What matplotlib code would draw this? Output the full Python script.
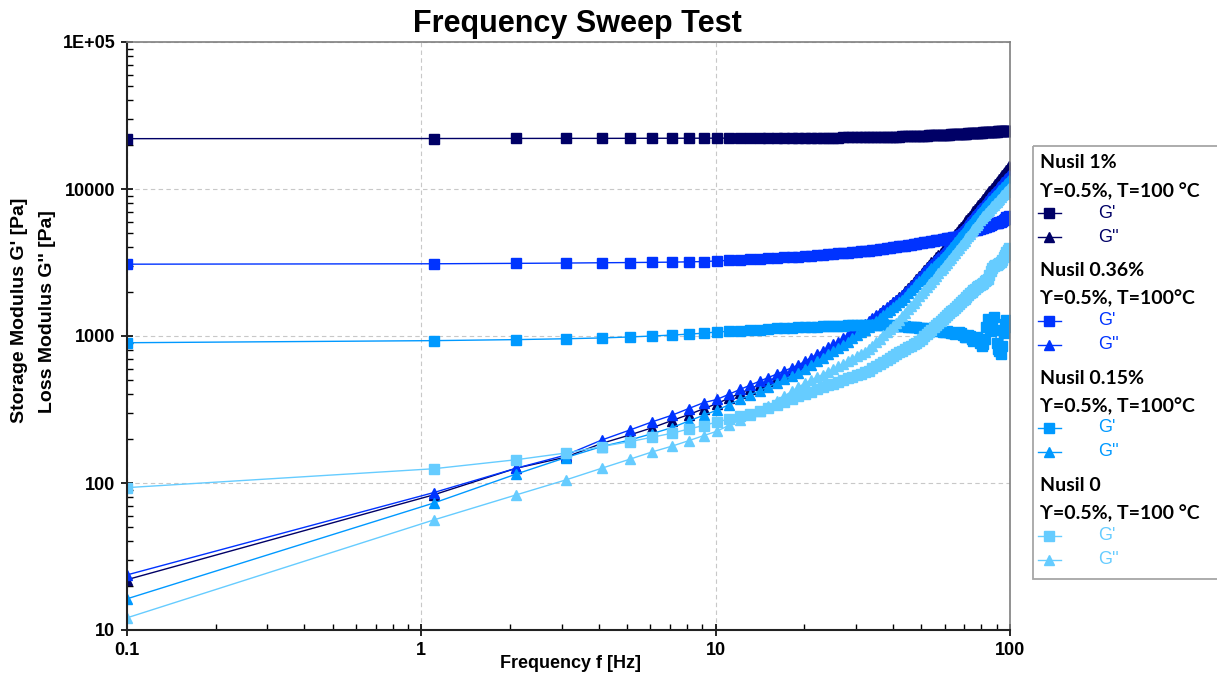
import matplotlib
matplotlib.use("Agg")
import matplotlib.pyplot as plt
from matplotlib.patches import Rectangle

# frequency points of the sweep [Hz]
freq = [0.1, 1.1, 2.1, 3.1, 4.1, 5.1, 6.1, 7.1, 8.1, 9.1,
        10.1, 11.1, 12.1, 13.1, 14.1, 15.1, 16.1, 17.1, 18.1, 19.1,
        20.1, 21.1, 22.1, 23.1, 24.1, 25.1, 26.1, 27.1, 28.1, 29.1,
        30.1, 31.1, 32.1, 33.1, 34.1, 35.1, 36.1, 37.1, 38.1, 39.1,
        40.1, 41.1, 42.1, 43.1, 44.1, 45.1, 46.1, 47.1, 48.1, 49.1,
        50.1, 51.1, 52.1, 53.1, 54.1, 55.1, 56.1, 57.1, 58.1, 59.1,
        60.1, 61.1, 62.1, 63.1, 64.1, 65.1, 66.1, 67.1, 68.1, 69.1,
        70.1, 71.1, 72.1, 73.1, 74.1, 75.1, 76.1, 77.1, 78.1, 79.1,
        80.1, 81.1, 82.1, 83.1, 84.1, 85.1, 86.1, 87.1, 88.1, 89.1,
        90.1, 91.1, 92.1, 93.1, 94.1, 95.1, 96.1, 97.1, 98.1, 99.1]

# Nusil 1%
n1_gp = [22000, 22050, 22080, 22100, 22100, 22120, 22130, 22140, 22150, 22160,
         22170, 22180, 22190, 22200, 22210, 22220, 22230, 22240, 22250, 22260,
         22280, 22300, 22320, 22340, 22360, 22380, 22400, 22420, 22440, 22460,
         22480, 22500, 22520, 22540, 22560, 22580, 22600, 22620, 22640, 22660,
         22690, 22720, 22750, 22780, 22810, 22840, 22870, 22900, 22930, 22960,
         23000, 23040, 23080, 23120, 23160, 23200, 23240, 23280, 23320, 23360,
         23400, 23440, 23480, 23520, 23560, 23600, 23640, 23680, 23720, 23760,
         23800, 23840, 23880, 23920, 23960, 24000, 24040, 24080, 24120, 24160,
         24200, 24240, 24280, 24320, 24360, 24400, 24440, 24480, 24520, 24560,
         24600, 24640, 24680, 24720, 24760, 24800, 24840, 24870, 24900, 24950]
n1_gpp = [22, 83, 126, 150, 186, 212, 238, 266, 292, 320,
          347, 378, 408, 437, 466, 494, 522, 550, 578, 606,
          643, 683, 723, 764, 806, 846, 888, 936, 986, 1035,
          1086, 1137, 1189, 1240, 1303, 1365, 1428, 1493, 1558, 1624,
          1691, 1760, 1829, 1910, 2012, 2116, 2223, 2334, 2448, 2564,
          2684, 2806, 2932, 3060, 3182, 3307, 3434, 3565, 3697, 3832,
          3986, 4163, 4343, 4529, 4720, 4915, 5114, 5318, 5517, 5721,
          5930, 6143, 6359, 6581, 6808, 7039, 7276, 7515, 7761, 8010,
          8265, 8510, 8792, 9062, 9336, 9617, 9902, 10191, 10487, 10787,
          11092, 11403, 11717, 12036, 12396, 12763, 13137, 13517, 13904, 14300]

# Nusil 0.36%
n036_gp = [3080, 3100, 3120, 3135, 3150, 3160, 3170, 3180, 3195, 3210,
           3240, 3272, 3302, 3329, 3354, 3378, 3400, 3421, 3441, 3460,
           3488, 3518, 3546, 3574, 3600, 3626, 3650, 3675, 3698, 3720,
           3742, 3763, 3784, 3802, 3837, 3868, 3897, 3927, 3955, 3983,
           4011, 4038, 4065, 4083, 4124, 4155, 4186, 4216, 4246, 4275,
           4304, 4332, 4360, 4388, 4415, 4442, 4471, 4499, 4527, 4555,
           4582, 4609, 4636, 4662, 4688, 4714, 4739, 4788, 4852, 4916,
           4979, 5043, 5107, 5144, 5184, 5223, 5263, 5301, 5340, 5378,
           5415, 5455, 5490, 5530, 5570, 5620, 5700, 5800, 5850, 5840,
           5860, 5900, 5950, 6000, 6080, 6180, 6280, 6400, 6500, 6600]
n036_gpp = [23.7, 86, 126, 155, 196, 229, 261, 289, 321, 352,
            370, 402, 433, 463, 493, 522, 550, 579, 607, 635,
            673, 713, 753, 795, 837, 876, 917, 964, 1013, 1060,
            1109, 1159, 1209, 1259, 1320, 1380, 1441, 1503, 1566, 1629,
            1693, 1758, 1824, 1900, 1998, 2097, 2201, 2308, 2416, 2528,
            2644, 2761, 2882, 2999, 3109, 3221, 3334, 3451, 3568, 3686,
            3823, 3980, 4139, 4303, 4470, 4640, 4817, 4999, 5175, 5355,
            5545, 5731, 5920, 6120, 6318, 6525, 6730, 6936, 7148, 7369,
            7587, 7804, 8045, 8283, 8514, 8761, 9001, 9253, 9501, 9762,
            10016, 10286, 10545, 10808, 11082, 11359, 11639, 11922, 12208, 12498]

# Nusil 0.15%
n015_gp = [900, 930, 945, 958, 970, 985, 1000, 1015, 1030, 1045,
           1065, 1077, 1088, 1098, 1107, 1116, 1125, 1132, 1140, 1147,
           1152, 1156, 1160, 1164, 1168, 1172, 1175, 1178, 1181, 1184,
           1186, 1188, 1190, 1190, 1189, 1188, 1186, 1184, 1182, 1179,
           1176, 1173, 1170, 1167, 1163, 1159, 1155, 1150, 1145, 1140,
           1135, 1128, 1120, 1112, 1105, 1098, 1090, 1082, 1075, 1070,
           1072, 1078, 1070, 1055, 1040, 1030, 1040, 1060, 1045, 1010,
           980, 985, 1010, 1000, 960, 930, 950, 980, 940, 890,
           860, 880, 950, 1150, 1300, 1240, 1080, 1200, 1350, 1100,
           900, 820, 790, 760, 850, 1050, 1200, 1280, 1150, 1250]
n015_gpp = [16.3, 73, 115, 149, 177, 196, 217, 238, 264, 289,
            313, 341, 370, 397, 425, 452, 479, 507, 534, 562,
            598, 635, 672, 711, 750, 787, 826, 870, 917, 963,
            1010, 1057, 1106, 1153, 1212, 1269, 1328, 1388, 1449, 1510,
            1569, 1632, 1692, 1765, 1855, 1949, 2045, 2143, 2245, 2349,
            2453, 2562, 2674, 2785, 2889, 2993, 3097, 3209, 3320, 3430,
            3559, 3709, 3861, 4017, 4177, 4340, 4505, 4680, 4849, 5029,
            5207, 5387, 5570, 5765, 5957, 6152, 6359, 6561, 6768, 6977,
            7191, 7387, 7605, 7821, 8029, 8251, 8466, 8693, 8914, 9147,
            9373, 9613, 9842, 10062, 10301, 10542, 10772, 11016, 11262, 11512]

# Nusil 0
n0_gp = [93, 125, 144, 160, 177, 191, 205, 218, 233, 246,
         260, 272, 284, 296, 309, 322, 340, 357, 373, 388,
         404, 418, 433, 447, 461, 475, 489, 502, 516, 529,
         542, 555, 568, 582, 605, 626, 647, 668, 689, 710,
         731, 753, 773, 794, 815, 837, 858, 879, 900, 923,
         958, 994, 1032, 1069, 1107, 1145, 1184, 1224, 1264, 1305,
         1347, 1389, 1426, 1470, 1511, 1551, 1593, 1641, 1692, 1744,
         1798, 1852, 1906, 1962, 2003, 2053, 2095, 2138, 2180, 2224,
         2267, 2311, 2355, 2399, 2460, 2600, 2750, 2880, 2980, 3020,
         3050, 3100, 3150, 3200, 3300, 3420, 3560, 3700, 3850, 3950]
n0_gpp = [12.1, 56, 83, 105, 126, 145, 163, 178, 194, 210,
          225, 247, 268, 290, 311, 332, 361, 390, 420, 450,
          476, 500, 524, 547, 571, 595, 621, 647, 673, 699,
          726, 752, 779, 810, 858, 908, 959, 1011, 1065, 1120,
          1176, 1235, 1294, 1360, 1437, 1516, 1598, 1683, 1770, 1860,
          1952, 2047, 2144, 2244, 2347, 2451, 2561, 2675, 2791, 2910,
          3032, 3157, 3285, 3416, 3550, 3688, 3828, 3982, 4138, 4298,
          4461, 4629, 4800, 4975, 5153, 5337, 5524, 5714, 5909, 6107,
          6311, 6508, 6695, 6874, 7058, 7242, 7431, 7620, 7813, 8009,
          8208, 8408, 8611, 8822, 9044, 9268, 9496, 9727, 9960, 10200]

group_names = ["Nusil 1%", "Nusil 0.36%", "Nusil 0.15%", "Nusil 0"]
group_conds = ["\u03d2=0.5%, T=100 \u00b0C", "\u03d2=0.5%, T=100\u00b0C",
               "\u03d2=0.5%, T=100\u00b0C", "\u03d2=0.5%, T=100 \u00b0C"]
group_colors = ["#000066", "#0033ff", "#0099ff", "#66ccff"]
group_gp = [n1_gp, n036_gp, n015_gp, n0_gp]
group_gpp = [n1_gpp, n036_gpp, n015_gpp, n0_gpp]

W, H = 1217, 681
fig = plt.figure(figsize=(W / 100, H / 100), dpi=100)
ax = fig.add_axes([127 / W, 1 - 630 / H, 883 / W, 588 / H])

for gp, gpp, col in zip(group_gp, group_gpp, group_colors):
    ax.plot(freq, gp, color=col, lw=1.0, marker="s", ms=6.5, mec=col, mfc=col)
    ax.plot(freq, gpp, color=col, lw=1.0, marker="^", ms=6.5, mec=col, mfc=col)

ax.set_xscale("log")
ax.set_yscale("log")
ax.set_xlim(0.1, 100)
ax.set_ylim(10, 1e5)

tick_font = dict(family="Liberation Sans", weight="bold", size=13)
ax.set_xticks([0.1, 1, 10, 100])
ax.set_xticklabels(["0.1", "1", "10", "100"], fontdict=tick_font)
ax.set_yticks([10, 100, 1000, 10000, 1e5])
ax.set_yticklabels(["10", "100", "1000", "10000", "1E+05"], fontdict=tick_font)
ax.tick_params(which="major", direction="inout", length=9, width=1.2, pad=4)
ax.tick_params(which="minor", direction="in", length=4, width=1.0)
ax.grid(True, which="major", color="#c8c8c8", ls=(0, (4, 3)), lw=0.8)
ax.set_axisbelow(True)

for side in ["left", "bottom"]:
    ax.spines[side].set_linewidth(1.5)
    ax.spines[side].set_color("#222222")
for side in ["top", "right"]:
    ax.spines[side].set_linewidth(1.2)
    ax.spines[side].set_color("#7f7f7f")

fig.text(577 / W, 1 - 24 / H, "Frequency Sweep Test", ha="center", va="center",
         family="Liberation Sans", weight="bold", size=22)
fig.text(571 / W, 1 - 664 / H, "Frequency f [Hz]", ha="center", va="center",
         family="Liberation Sans", weight="bold", size=13)
fig.text(20 / W, 1 - 310 / H, "Storage Modulus G' [Pa]", rotation=90,
         ha="center", va="center", family="Liberation Sans", weight="bold", size=14)
fig.text(48 / W, 1 - 312 / H, "Loss Modulus G'' [Pa]", rotation=90,
         ha="center", va="center", family="Liberation Sans", weight="bold", size=14)

# legend panel, drawn in pixel units relative to its top-left corner
leg = fig.add_axes([1033 / W, 1 - 579 / H, 200 / W, 433 / H])
leg.set_xlim(0, 200)
leg.set_ylim(433, 0)
leg.axis("off")
leg.add_patch(Rectangle((0, 0), 200, 433, fill=False, edgecolor="#a6a6a6",
                        lw=1.3, clip_on=False))

head_font = dict(family=["Lato", "DejaVu Sans"], weight="bold", size=14, color="black")
row_y = [17, 45, 67, 91]
for i, (name, cond, col) in enumerate(zip(group_names, group_conds, group_colors)):
    off = i * 107.5
    leg.text(7, row_y[0] + off, name, va="center", ha="left", **head_font)
    leg.text(7, row_y[1] + off, cond, va="center", ha="left", **head_font)
    for y, mk, lab in [(row_y[2] + off, "s", "G'"), (row_y[3] + off, "^", "G''")]:
        leg.plot([5, 28], [y, y], color=col, lw=1.0)
        leg.plot([16], [y], marker=mk, ms=6.5, color=col)
        leg.text(65, y, lab, va="center", ha="left", color=col,
                 family="Liberation Sans", size=13)

fig.savefig("out.png", dpi=100)
